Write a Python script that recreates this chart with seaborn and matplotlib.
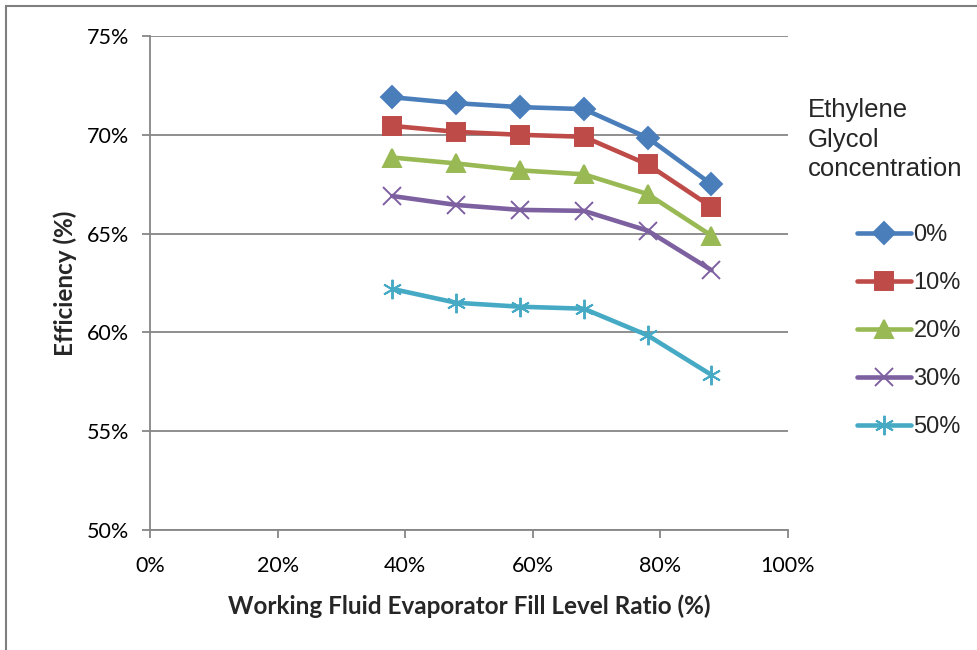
import pandas as pd
import seaborn as sns
import matplotlib.pyplot as plt
from matplotlib.patches import Rectangle
from matplotlib.ticker import PercentFormatter

# fill level ratio (%)
fill_level = [38, 48, 58, 68, 78, 88]

# efficiency (%) per ethylene glycol concentration
eff_0 = [71.9, 71.6, 71.4, 71.3, 69.85, 67.5]
eff_10 = [70.45, 70.15, 70.0, 69.9, 68.5, 66.35]
eff_20 = [68.85, 68.55, 68.2, 68.0, 67.0, 64.9]
eff_30 = [66.9, 66.45, 66.2, 66.15, 65.15, 63.15]
eff_50 = [62.2, 61.5, 61.3, 61.2, 59.85, 57.85]

concentrations = ['0%', '10%', '20%', '30%', '50%']
colors = ['#4A7EBB', '#BE4B48', '#98B954', '#7D60A0', '#46AAC5']
markers = ['D', 's', '^', 'x', (6, 2, 0)]
marker_sizes = [11.5, 13.5, 13, 13, 14]

frames = []
for conc, vals in zip(concentrations, [eff_0, eff_10, eff_20, eff_30, eff_50]):
    frames.append(pd.DataFrame({'fill': fill_level, 'eff': vals, 'conc': conc}))
data = pd.concat(frames, ignore_index=True)

sns.set_style("white")
plt.rcParams['font.family'] = ['Lato', 'DejaVu Sans']

fig = plt.figure(figsize=(9.78, 6.5), dpi=100)
ax = fig.add_axes([150 / 978, 1 - 530 / 650, 638 / 978, 494 / 650])

sns.lineplot(data=data, x='fill', y='eff', hue='conc', hue_order=concentrations,
             palette=dict(zip(concentrations, colors)),
             linewidth=3.3, legend=False, ax=ax)

# excel style markers, one per series (seaborn won't mix filled and line markers)
for line, col, mk, ms in zip(ax.lines, colors, markers, marker_sizes):
    line.set_marker(mk)
    line.set_markeredgecolor(col)
    line.set_markerfacecolor(col)
    line.set_markersize(ms)
    line.set_markeredgewidth(1.4)
    line.set_solid_capstyle('round')

ax.set_xlim(0, 100)
ax.set_ylim(50, 75)
ax.set_xticks(range(0, 101, 20))
ax.set_yticks(range(50, 76, 5))
ax.xaxis.set_major_formatter(PercentFormatter(decimals=0))
ax.yaxis.set_major_formatter(PercentFormatter(decimals=0))

grid_col = '#868686'
ax.grid(axis='y', color=grid_col, linewidth=1.3)
ax.grid(axis='x', visible=False)
for side in ['top', 'right']:
    ax.spines[side].set_visible(False)
for side in ['left', 'bottom']:
    ax.spines[side].set_color(grid_col)
    ax.spines[side].set_linewidth(1.3)
ax.tick_params(axis='both', direction='out', length=6, width=1.3, color=grid_col,
               labelsize=15.5, labelcolor='black')
ax.tick_params(axis='x', pad=13, bottom=True)
ax.tick_params(axis='y', pad=9, left=True)

ax.set_xlabel('Working Fluid Evaporator Fill Level Ratio (%)', fontsize=17.5,
              fontweight='bold', labelpad=13)
ax.set_ylabel('Efficiency (%)', fontsize=17.5, fontweight='bold', labelpad=7)

fig.text(808 / 978, 1 - 98 / 650, 'Ethylene\nGlycol\nconcentration',
         fontsize=18.5, family=['Liberation Sans'], va='top', ha='left',
         linespacing=1.3)
ax.legend(ax.lines, concentrations, loc='upper left',
          bbox_to_anchor=(848 / 978, 1 - 215 / 650), bbox_transform=fig.transFigure,
          frameon=False, handlelength=2.25, handletextpad=0.12, labelspacing=1.1,
          prop={'family': 'Liberation Sans', 'size': 17}, borderaxespad=0)

fig.patches.append(Rectangle((6 / 978, -0.1), 1.2, 1.1 - 6 / 650, transform=fig.transFigure,
                             fill=False, edgecolor='#7f7f7f', linewidth=1.5))

fig.savefig('out.png', dpi=100)
